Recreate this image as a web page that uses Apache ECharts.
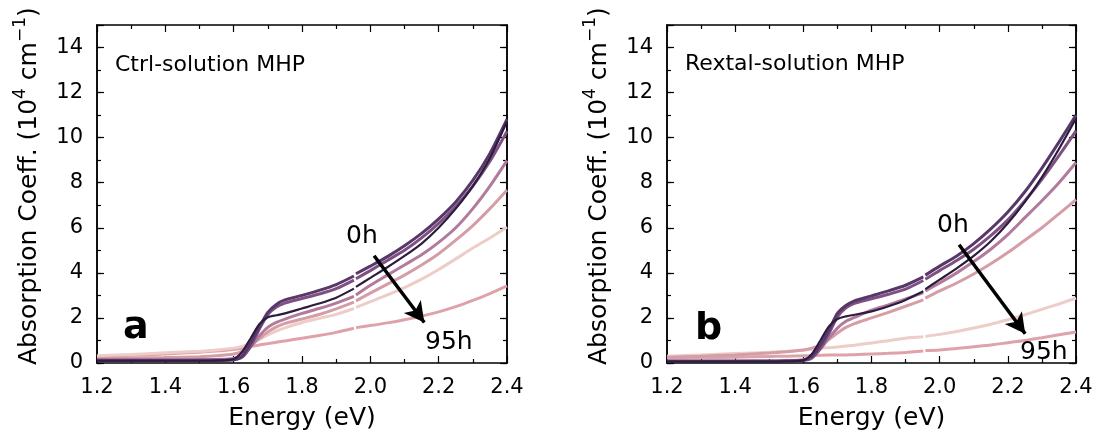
<!DOCTYPE html>
<html><head><meta charset="utf-8">
<script src="https://cdn.jsdelivr.net/npm/echarts@6/dist/echarts.min.js"></script>
<style>html,body{margin:0;padding:0;background:#fff}#c{width:1099px;height:438px}</style>
</head><body><div id="c"></div>
<script>
// Photon energy (eV); the null entry at 1.955 eV marks the detector-change gap
const energies = [1.20,1.30,1.40,1.50,1.55,1.60,1.625,1.65,1.675,1.70,1.725,1.75,1.80,1.85,1.90,1.952,1.955,1.958,2.00,2.05,2.10,2.15,2.20,2.25,2.30,2.35,2.40];

// Panel a: Ctrl-solution MHP (1e4 cm^-1)
const ctrlNavy    = [0.10,0.10,0.10,0.10,0.11,0.18,0.50,1.10,1.72,2.03,2.12,2.20,2.42,2.64,2.90,3.30,null,3.38,3.78,4.25,4.75,5.30,6.00,6.85,7.85,9.10,10.72];
const ctrlPurple1 = [0.10,0.10,0.10,0.10,0.11,0.14,0.30,0.90,1.60,2.25,2.60,2.80,3.00,3.22,3.48,3.86,null,3.96,4.30,4.72,5.20,5.75,6.40,7.15,8.10,9.30,10.82];
const ctrlPurple2 = [0.12,0.12,0.12,0.12,0.13,0.15,0.26,0.75,1.50,2.15,2.48,2.66,2.86,3.06,3.30,3.68,null,3.74,4.10,4.55,5.00,5.55,6.20,6.95,7.85,8.95,10.28];
const ctrlMauve   = [0.14,0.14,0.14,0.15,0.16,0.20,0.34,0.72,1.20,1.58,1.80,1.95,2.20,2.42,2.66,2.96,null,3.02,3.45,3.90,4.35,4.80,5.35,6.00,6.85,7.85,8.98];
const ctrlPink    = [0.20,0.22,0.24,0.28,0.32,0.40,0.52,0.76,1.08,1.38,1.60,1.76,1.95,2.15,2.40,2.70,null,2.76,3.10,3.50,3.90,4.35,4.85,5.45,6.10,6.85,7.68];
const ctrlLight   = [0.32,0.38,0.45,0.52,0.58,0.66,0.74,0.88,1.05,1.25,1.42,1.56,1.80,1.98,2.16,2.42,null,2.47,2.72,3.02,3.35,3.72,4.15,4.62,5.10,5.55,6.02];
const ctrlSalmon  = [0.28,0.34,0.40,0.48,0.53,0.60,0.66,0.73,0.80,0.86,0.92,0.98,1.10,1.22,1.36,1.54,null,1.57,1.66,1.78,1.92,2.08,2.27,2.50,2.78,3.08,3.42];

// Panel b: Rextal-solution MHP (1e4 cm^-1)
const rexNavy     = [0.06,0.06,0.06,0.06,0.07,0.12,0.40,1.00,1.62,1.95,2.07,2.14,2.29,2.52,2.80,3.18,null,3.28,3.70,4.20,4.75,5.40,6.20,7.15,8.25,9.50,10.85];
const rexPurple1  = [0.08,0.08,0.08,0.08,0.09,0.12,0.30,0.80,1.45,2.20,2.55,2.76,2.98,3.20,3.45,3.82,null,3.90,4.30,4.75,5.30,5.95,6.70,7.60,8.65,9.80,11.00];
const rexPurple2  = [0.08,0.08,0.08,0.08,0.09,0.11,0.22,0.65,1.30,2.05,2.45,2.65,2.85,3.05,3.28,3.66,null,3.72,4.10,4.55,5.05,5.65,6.35,7.20,8.15,9.20,10.30];
const rexMauve    = [0.08,0.08,0.08,0.09,0.10,0.14,0.28,0.62,1.10,1.55,1.85,2.02,2.35,2.58,2.84,3.12,null,3.20,3.55,4.00,4.50,5.05,5.70,6.45,7.20,8.00,8.90];
const rexPink     = [0.25,0.30,0.36,0.44,0.50,0.58,0.66,0.80,1.05,1.33,1.58,1.75,2.00,2.25,2.52,2.80,null,2.88,3.20,3.55,3.95,4.40,4.90,5.45,6.00,6.62,7.25];
const rexLight    = [0.30,0.36,0.42,0.48,0.52,0.57,0.61,0.65,0.68,0.71,0.75,0.79,0.89,0.99,1.10,1.16,null,1.18,1.27,1.40,1.55,1.72,1.92,2.14,2.38,2.62,2.88];
const rexSalmon   = [0.22,0.24,0.26,0.29,0.30,0.32,0.33,0.34,0.35,0.35,0.36,0.37,0.40,0.43,0.47,0.53,null,0.55,0.58,0.64,0.72,0.80,0.90,1.00,1.12,1.25,1.38];

// Arrow annotations (data coords: [energy, value])
const arrowA = [[2.011, 4.76], [2.158, 1.80]];
const arrowB = [[2.057, 5.25], [2.251, 1.30]];

const xTicks = { min: 1.2, max: 2.4, interval: 0.2 };
const yTicks = { min: 0, max: 15, major: 2, minor: 1 };

const FONT = 'DejaVu Sans';
const colors = { navy:'#2c1c3f', purple1:'#583868', purple2:'#7e5182', mauve:'#b27a9b', pink:'#d59ea7', light:'#edcdc7', salmon:'#dea3a9' };

function xAxis(grid, pos, labels) {
  return {
    type:'value', gridIndex:grid, position:pos, min:xTicks.min, max:xTicks.max, interval:xTicks.interval,
    axisLine:{show:true, onZero:false, lineStyle:{color:'#000', width:1.5}},
    axisTick:{show:true, inside:true, length:7, lineStyle:{color:'#000', width:1.2}},
    minorTick:{show:true, splitNumber:2, length:4, lineStyle:{color:'#000', width:1.2}},
    splitLine:{show:false}, minorSplitLine:{show:false},
    axisLabel:{show:labels, fontSize:21, fontFamily:FONT, color:'#000', margin:14, formatter:v=>v.toFixed(1)},
    name: labels ? 'Energy (eV)' : '', nameLocation:'middle', nameGap:43,
    nameTextStyle:{fontSize:25, fontFamily:FONT, color:'#000'}
  };
}
function yAxis(grid, pos, labels, major) {
  return {
    type:'value', gridIndex:grid, position:pos, min:yTicks.min, max:yTicks.max,
    interval: major ? yTicks.major : yTicks.minor,
    axisLine:{show:true, onZero:false, lineStyle:{color:'#000', width:1.5}},
    axisTick:{show:true, inside:true, length: major ? 7 : 4, lineStyle:{color:'#000', width:1.2}},
    splitLine:{show:false},
    axisLabel:{show:labels, fontSize:21, fontFamily:FONT, color:'#000', margin:14,
      formatter: v => (v % 2 === 0 ? String(v) : '')}
  };
}

function lineSeries(xi, yi, vals, color, width, extra) {
  return Object.assign({
    type:'line', xAxisIndex:xi, yAxisIndex:yi,
    data: energies.map((e,i)=>[e, vals[i]]),
    showSymbol:false, smooth:0.25, connectNulls:false,
    lineStyle:{color:color, width:width, cap:'butt'}, silent:true, animation:false
  }, extra || {});
}
function arrowMark(a) {
  return { silent:true, symbol:['none','arrow'], symbolSize:[16,20], animation:false,
    lineStyle:{color:'#000', width:3.5, type:'solid'}, label:{show:false},
    data:[[{coord:a[0]},{coord:a[1]}]] };
}

const panelA = [ctrlSalmon, ctrlLight, ctrlPink, ctrlMauve, ctrlPurple2, ctrlPurple1, ctrlNavy];
const panelB = [rexSalmon, rexLight, rexPink, rexMauve, rexPurple2, rexPurple1, rexNavy];
const order = ['salmon','light','pink','mauve','purple2','purple1','navy'];

const series = [];
panelA.forEach((v,i)=>series.push(lineSeries(0,0,v,colors[order[i]], order[i]==='navy'?2.2:3, i===0?{markLine:arrowMark(arrowA)}:null)));
panelB.forEach((v,i)=>series.push(lineSeries(2,4,v,colors[order[i]], order[i]==='navy'?2.2:3, i===0?{markLine:arrowMark(arrowB)}:null)));

function txt(x, y, s, size, weight) {
  return { type:'text', x:x, y:y, z:100, silent:true,
    style:{ text:s, fontSize:size, fontFamily:FONT, fontWeight:weight||'normal', fill:'#000', align:'left', verticalAlign:'middle' } };
}
function yTitle(x) {
  return { type:'text', x:x, y:365, rotation:Math.PI/2, z:100, silent:true,
    style:{ text:'Absorption Coeff. (10{sup|4} cm{sup|\u22121})', fontSize:25, fontFamily:FONT, fill:'#000',
      align:'left', verticalAlign:'middle',
      rich:{ sup:{ fontSize:17, fontFamily:FONT, fill:'#000', verticalAlign:'top', lineHeight:34 } } } };
}

const chart = echarts.init(document.getElementById('c'), null, {renderer:'canvas'});
chart.setOption({
  animation:false,
  backgroundColor:'#fff',
  grid:[ {left:97, top:25, width:410, height:338}, {left:667, top:25, width:409, height:338} ],
  xAxis:[ xAxis(0,'bottom',true), xAxis(0,'top',false), xAxis(1,'bottom',true), xAxis(1,'top',false) ],
  yAxis:[ yAxis(0,'left',true,true), yAxis(0,'left',false,false), yAxis(0,'right',false,true), yAxis(0,'right',false,false),
          yAxis(1,'left',true,true), yAxis(1,'left',false,false), yAxis(1,'right',false,true), yAxis(1,'right',false,false) ],
  series: series,
  graphic:[
    yTitle(29), yTitle(599),
    txt(115, 65, 'Ctrl-solution MHP', 22),
    txt(685, 64, 'Rextal-solution MHP', 22),
    txt(123, 328, 'a', 38, 'bold'),
    txt(695, 329, 'b', 38, 'bold'),
    txt(346, 236, '0h', 25), txt(425, 342, '95h', 25),
    txt(937, 225, '0h', 25), txt(1020, 352, '95h', 25)
  ]
});
</script></body></html>
